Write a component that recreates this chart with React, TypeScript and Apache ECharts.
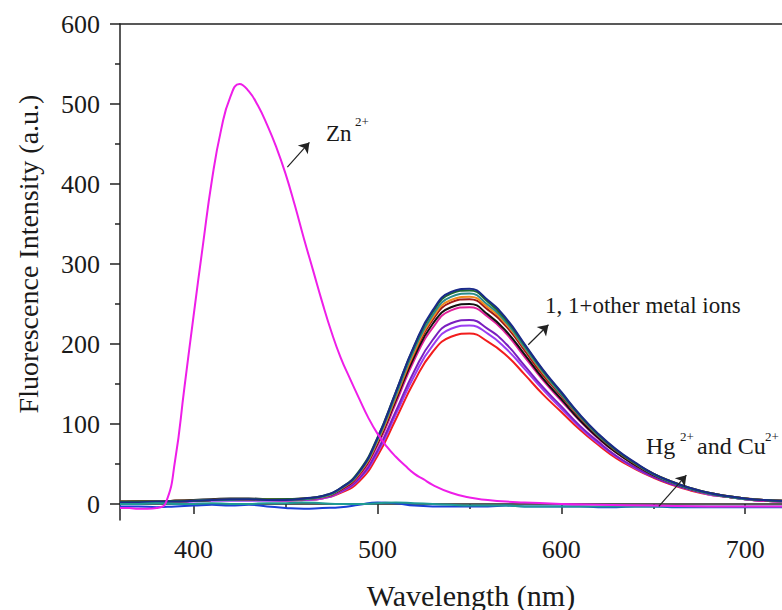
import React, { useEffect, useRef } from "react";
import * as echarts from "echarts";

// ---- data ----
const wavelengths = [360, 370, 380, 390, 400, 410, 420, 430, 440, 450, 460, 470, 480, 490, 500, 510, 520, 530, 540, 550, 560, 570, 580, 590, 600, 610, 620, 630, 640, 650, 660, 670, 680, 690, 700, 710, 720];

const redIon = [3, 3, 3, 4, 4, 5, 5, 5, 5, 4, 5, 7, 14, 28, 60, 106, 153, 190, 209, 213, 203, 186, 162, 137, 115, 93, 74, 57, 44, 33, 24, 17, 12, 9, 6, 4, 3];
const violetIon = [1, 1, 2, 2, 3, 4, 4, 4, 4, 4, 5, 7, 15, 31, 64, 112, 160, 198, 219, 223, 213, 194, 169, 143, 119, 96, 76, 59, 45, 34, 25, 18, 12, 9, 6, 4, 3];
const purpleIon = [2, 2, 3, 3, 4, 5, 5, 5, 5, 5, 6, 8, 16, 32, 67, 116, 166, 205, 226, 230, 219, 200, 173, 146, 122, 98, 78, 60, 46, 34, 25, 18, 13, 9, 6, 4, 3];
const pinkIon = [1, 1, 2, 3, 4, 5, 5, 5, 5, 5, 6, 8, 17, 35, 73, 126, 180, 220, 242, 246, 234, 213, 184, 155, 129, 104, 82, 64, 49, 36, 27, 19, 13, 9, 6, 4, 3];
const blackIon = [2, 3, 3, 4, 5, 6, 7, 7, 6, 6, 7, 9, 18, 37, 76, 130, 184, 225, 246, 250, 237, 216, 187, 157, 131, 105, 83, 64, 49, 36, 27, 19, 14, 10, 7, 5, 4];
const darkRedIon = [3, 3, 3, 4, 4, 5, 6, 6, 5, 5, 6, 9, 18, 37, 77, 132, 188, 230, 252, 256, 243, 222, 192, 161, 135, 108, 85, 66, 50, 37, 27, 19, 13, 9, 7, 5, 4];
const orangeIon = [2, 2, 3, 3, 4, 5, 6, 6, 6, 5, 7, 9, 19, 38, 78, 134, 190, 233, 255, 259, 246, 225, 195, 164, 137, 110, 87, 67, 51, 38, 28, 20, 14, 10, 7, 5, 4];
const tealIon = [1, 2, 2, 3, 4, 5, 5, 6, 5, 5, 6, 9, 19, 39, 80, 136, 193, 236, 259, 263, 249, 227, 196, 165, 137, 110, 86, 67, 51, 37, 27, 19, 13, 9, 6, 5, 3];
const greenIon = [3, 3, 3, 4, 4, 5, 6, 6, 6, 6, 7, 10, 20, 41, 83, 140, 197, 240, 263, 267, 253, 230, 199, 167, 139, 111, 87, 67, 51, 38, 28, 20, 14, 10, 7, 5, 4];
const probeOnly = [2, 2, 3, 3, 4, 5, 6, 6, 5, 5, 7, 10, 20, 40, 82, 140, 198, 242, 265, 269, 255, 232, 200, 168, 140, 112, 88, 68, 52, 38, 28, 20, 14, 10, 7, 5, 4];

const hgValues = [-3, -3, -4, -3, -2, -1, -2, -1, -3, -5, -6, -5, -4, -1, 2, 1, -2, -3, -3, -3, -3, -2, -3, -3, -3, -3, -4, -4, -3, -3, -4, -4, -4, -4, -4, -4, -4];
const cuValues = [0, 0, 1, 0, 0, 1, 0, 0, 1, 1, 2, 1, 0, 0, 1, 2, 1, 0, -1, -2, -2, -2, -3, -3, -3, -3, -3, -3, -3, -3, -3, -3, -3, -3, -3, -3, -3];

const znWavelengths = [360, 365, 370, 375, 380, 385, 390, 395, 400, 405, 410, 415, 420, 425, 430, 435, 440, 445, 450, 455, 460, 465, 470, 475, 480, 485, 490, 495, 500, 505, 510, 515, 520, 525, 530, 540, 550, 560, 570, 580, 600, 620, 650, 680, 700, 720];
const znValues = [-5, -5, -6, -6, -5, 2, 55, 145, 235, 322, 405, 468, 509, 525, 516, 498, 474, 446, 413, 374, 332, 292, 252, 215, 183, 157, 132, 108, 88, 72, 59, 48, 38, 31, 24, 14, 8, 5, 3, 2, 0, -1, -2, -3, -3, -3];

const xTicks = [400, 500, 600, 700];
const xMinorTicks = [450, 550, 650];
const yTicks = [0, 100, 200, 300, 400, 500, 600];
const yMinorTicks = [50, 150, 250, 350, 450, 550];

// annotation arrows in data coordinates: [tail, head]
const arrows: [number, number][][] = [
  [[451, 421], [463, 452]],
  [[582, 199], [593, 224]],
  [[653, -3], [668, 36]],
];

// ---- styles ----
const mainGroup = [
  { name: "1+ion A", values: redIon, color: "#f21d1d" },
  { name: "1+ion B", values: violetIon, color: "#9b3df2" },
  { name: "1+ion C", values: purpleIon, color: "#7a1fbf" },
  { name: "1+ion D", values: pinkIon, color: "#e0209a" },
  { name: "1+ion E", values: blackIon, color: "#111111" },
  { name: "1+ion F", values: darkRedIon, color: "#a01818" },
  { name: "1+ion G", values: orangeIon, color: "#f08a1e" },
  { name: "1+ion H", values: tealIon, color: "#2a8c8c" },
  { name: "1+ion I", values: greenIon, color: "#1d6b2e" },
  { name: "1", values: probeOnly, color: "#1a2a8a" },
];

const FAMILY = "'Liberation Serif', 'Times New Roman', serif";

export default function App() {
  const ref = useRef<HTMLDivElement>(null);

  useEffect(() => {
    if (!ref.current) return;
    const chart = echarts.init(ref.current, undefined, { renderer: "svg" });

    const lineSeries = (name: string, xs: number[], ys: number[], color: string, extra: any = {}) => ({
      name,
      type: "line",
      xAxisIndex: 0,
      yAxisIndex: 0,
      data: xs.map((x, i) => [x, ys[i]]),
      showSymbol: false,
      smooth: true,
      lineStyle: { color, width: 2 },
      itemStyle: { color },
      silent: true,
      ...extra,
    });

    const series: any[] = [
      ...mainGroup.map((s) => lineSeries(s.name, wavelengths, s.values, s.color)),
      lineSeries("1+Hg2+", wavelengths, hgValues, "#1a3fd6"),
      lineSeries("1+Cu2+", wavelengths, cuValues, "#1f9a94"),
      lineSeries("1+Zn2+", znWavelengths, znValues, "#ee1ee8", {
        markLine: {
          silent: true,
          symbol: ["none", "arrow"],
          symbolSize: 10,
          lineStyle: { color: "#222", width: 1.2, type: "solid" },
          label: { show: false },
          emphasis: { disabled: true },
          data: arrows.map(([a, b]) => [{ coord: a }, { coord: b }]),
        },
      }),
    ];

    const txt = (text: string, x: number, y: number, size: number, extra: any = {}) => ({
      type: "text",
      x,
      y,
      silent: true,
      style: {
        text,
        font: `${size}px ${FAMILY}`,
        fontFamily: FAMILY,
        fontSize: size,
        fill: "#1a1a1a",
        align: "left",
        verticalAlign: "middle",
        ...extra,
      },
    });

    chart.setOption({
      animation: false,
      backgroundColor: "#ffffff",
      grid: { left: 120, top: 24, width: 672, height: 496 },
      xAxis: [
        {
          type: "value",
          min: 360,
          max: 720,
          position: "bottom",
          axisLine: { show: true, lineStyle: { color: "#222", width: 1.5 } },
          axisTick: { show: true, inside: false, length: 10, customValues: xTicks, lineStyle: { color: "#222", width: 1.5 } },
          axisLabel: { show: true, customValues: xTicks, margin: 16, fontSize: 26, fontFamily: FAMILY, color: "#1a1a1a" },
          splitLine: { show: false },
        },
        {
          type: "value",
          min: 360,
          max: 720,
          position: "bottom",
          axisLine: { show: false },
          axisTick: { show: true, inside: false, length: 5, customValues: xMinorTicks, lineStyle: { color: "#222", width: 1.5 } },
          axisLabel: { show: false },
          splitLine: { show: false },
        },
        {
          type: "value",
          min: 360,
          max: 720,
          position: "top",
          axisLine: { show: true, lineStyle: { color: "#222", width: 1.5 } },
          axisTick: { show: false },
          axisLabel: { show: false },
          splitLine: { show: false },
        },
      ],
      yAxis: [
        {
          type: "value",
          min: -20,
          max: 600,
          position: "left",
          axisLine: { show: true, lineStyle: { color: "#222", width: 1.5 } },
          axisTick: { show: true, inside: false, length: 10, customValues: yTicks, lineStyle: { color: "#222", width: 1.5 } },
          axisLabel: { show: true, customValues: yTicks, margin: 20, fontSize: 26, fontFamily: FAMILY, color: "#1a1a1a" },
          splitLine: { show: false },
        },
        {
          type: "value",
          min: -20,
          max: 600,
          position: "left",
          axisLine: { show: false },
          axisTick: { show: true, inside: false, length: 5, customValues: yMinorTicks, lineStyle: { color: "#222", width: 1.5 } },
          axisLabel: { show: false },
          splitLine: { show: false },
        },
      ],
      series,
      graphic: [
        txt("Fluorescence Intensity (a.u.)", 28, 254, 28, { align: "center" }),
        txt("Wavelength (nm)", 471, 595, 30, { align: "center" }),
        txt("Zn", 326, 133, 23),
        txt("2+", 355, 121, 13),
        txt("1, 1+other metal ions", 545, 305, 23),
        txt("Hg", 646, 446, 24),
        txt("2+", 680, 436, 13),
        txt("and Cu", 697, 446, 24),
        txt("2+", 765, 436, 13),
      ].map((g, i) => (i === 0 ? { ...g, rotation: Math.PI / 2 } : g)),
    });

    return () => chart.dispose();
  }, []);

  return (
    <div
      ref={ref}
      style={{ position: "fixed", left: 0, top: 0, width: 782, height: 610, background: "#fff" }}
    />
  );
}
